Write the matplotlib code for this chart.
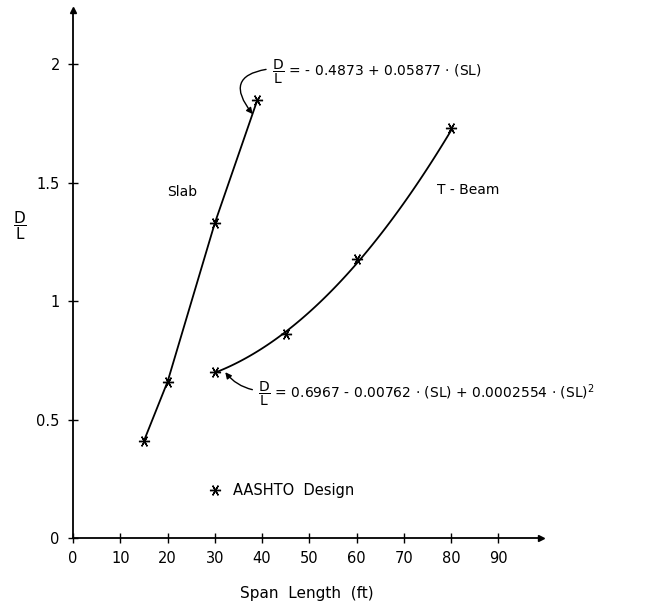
import matplotlib
matplotlib.use("Agg")
import matplotlib.pyplot as plt
import numpy as np

plt.rcParams['font.family'] = 'DejaVu Sans'
plt.rcParams['mathtext.fontset'] = 'dejavusans'

# AASHTO design points, depth/length ratio vs span length
slab_span = [15, 20, 30, 39]
slab_dl = [0.41, 0.66, 1.33, 1.85]
tbeam_span = [30, 45, 60, 80]
tbeam_dl = [0.70, 0.86, 1.18, 1.73]

# fitted t-beam curve (coefficients, highest power first)
tbeam_coef = [0.0002554, -0.00762, 0.6967]

x_ticks = [0, 10, 20, 30, 40, 50, 60, 70, 80, 90]
y_ticks = [0, 0.5, 1, 1.5, 2]
y_ticklabels = ['0', '0.5', '1', '1.5', '2']

fig = plt.figure(figsize=(6.7, 6.07), dpi=100)
ax = fig.add_axes([0.109, 0.1137, 0.6985, 0.87])

star = (6, 2, 30)   # asterisk marker with a flat bar

# slab: straight segment through the design points
ax.plot(slab_span, slab_dl, color='black', lw=1.3,
        marker=star, ms=8, mew=1.0)

# t-beam: quadratic fit drawn between the end points
sl = np.linspace(tbeam_span[0], tbeam_span[-1], 100)
ax.plot(sl, np.polyval(tbeam_coef, sl), color='black', lw=1.3)
pts, = ax.plot(tbeam_span, tbeam_dl, ls='none', color='black',
               marker=star, ms=8, mew=1.0)

ax.set_xlim(0, 99)
ax.set_ylim(0, 2.23)
ax.spines['top'].set_visible(False)
ax.spines['right'].set_visible(False)
ax.spines['left'].set_linewidth(1.3)
ax.spines['bottom'].set_linewidth(1.3)
ax.plot(1, 0, '>k', ms=5, transform=ax.transAxes, clip_on=False)
ax.plot(0, 1, '^k', ms=5, transform=ax.transAxes, clip_on=False)

ax.set_xticks(x_ticks)
ax.set_yticks(y_ticks)
ax.set_yticklabels(y_ticklabels)
ax.tick_params(direction='inout', length=7, width=1, labelsize=10.5, pad=6)

frac = r'$\dfrac{\mathrm{D}}{\mathrm{L}}$'

ax.set_xlabel('Span  Length  (ft)', fontsize=11, labelpad=14)
ax.text(-0.113, 1.32 / 2.23, frac, transform=ax.transAxes,
        fontsize=11, ha='center', va='center')

ax.text(23, 1.46, 'Slab', fontsize=10, ha='center', va='center')
ax.text(83.5, 1.47, 'T - Beam', fontsize=10, ha='center', va='center')

ax.annotate(frac + ' = - 0.4873 + 0.05877 · (SL)',
            xy=(38, 1.79), xytext=(42, 1.97), fontsize=10,
            ha='left', va='center', annotation_clip=False,
            arrowprops=dict(arrowstyle='-|>', color='black', lw=1,
                            shrinkA=2, shrinkB=0, mutation_scale=9,
                            connectionstyle='arc3,rad=0.9',
                            relpos=(0, 0.6)))

ax.annotate(frac + ' = 0.6967 - 0.00762 · (SL) + 0.0002554 · (SL)$^2$',
            xy=(32.2, 0.70), xytext=(39.1, 0.61), fontsize=10,
            ha='left', va='center', annotation_clip=False,
            arrowprops=dict(arrowstyle='-|>', color='black', lw=1,
                            shrinkA=2, shrinkB=0, mutation_scale=9,
                            connectionstyle='arc3,rad=-0.2',
                            relpos=(0, 0.6)))

ax.legend([pts], ['AASHTO  Design'], loc='center left',
          bbox_to_anchor=(0.288, 0.089), frameon=False, fontsize=10.5,
          handlelength=1, handletextpad=0.7, borderpad=0, borderaxespad=0)

fig.savefig('out.png', dpi=100)
